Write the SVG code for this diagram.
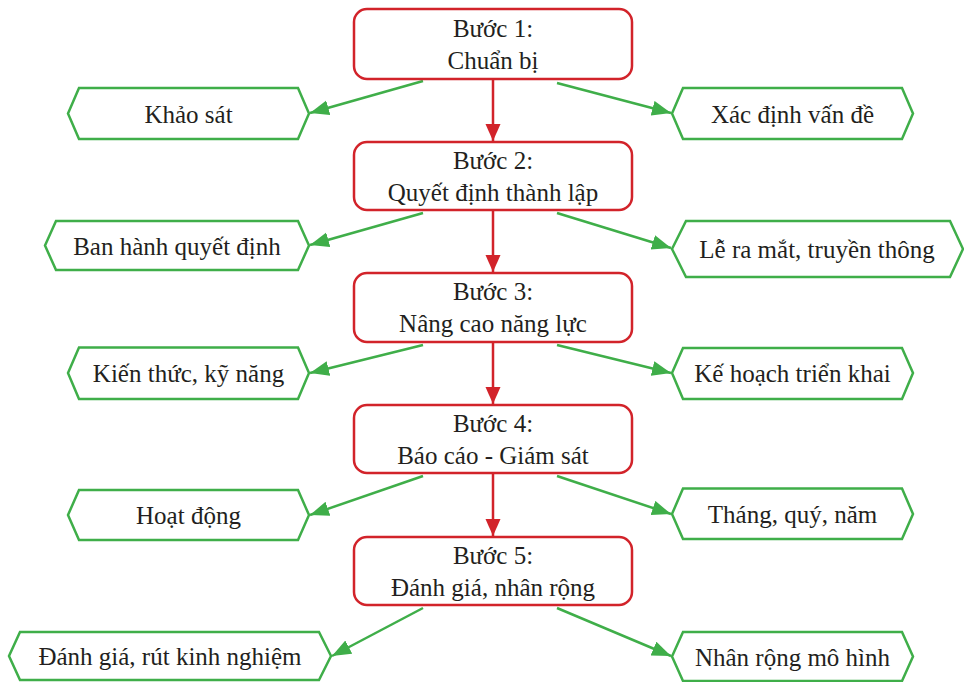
<svg xmlns="http://www.w3.org/2000/svg" width="964" height="682" viewBox="0 0 964 682">
<style>
  .step{fill:#fff;stroke:#d2232a;stroke-width:2.5}
  .hex{fill:#fff;stroke:#3fae49;stroke-width:2.5;stroke-linejoin:miter}
  .red{stroke:#d2232a;stroke-width:2.5;fill:none}
  .grn{stroke:#3fae49;stroke-width:2.5;fill:none}
  text{font-family:"Liberation Serif","DejaVu Serif",serif;font-size:25px;fill:#231f20;text-anchor:middle}
</style>
<defs>
  <marker id="ar" markerUnits="userSpaceOnUse" markerWidth="18" markerHeight="16" refX="17" refY="7.5" orient="auto">
    <path d="M0,0 L17,7.5 L0,15 z" fill="#d2232a"/>
  </marker>
  <marker id="ag" markerUnits="userSpaceOnUse" markerWidth="20" markerHeight="16" refX="19" refY="7.5" orient="auto">
    <path d="M0,0 L19,7.5 L0,15 z" fill="#3fae49"/>
  </marker>
</defs>

<g id="connectors">
  <line class="red" x1="493" y1="80" x2="493" y2="141" marker-end="url(#ar)"/>
  <line class="red" x1="493" y1="211" x2="493" y2="272" marker-end="url(#ar)"/>
  <line class="red" x1="493" y1="343" x2="493" y2="404" marker-end="url(#ar)"/>
  <line class="red" x1="493" y1="474" x2="493" y2="536" marker-end="url(#ar)"/>

  <line class="grn" x1="423" y1="81" x2="310" y2="113" marker-end="url(#ag)"/>
  <line class="grn" x1="557" y1="83" x2="671" y2="113" marker-end="url(#ag)"/>
  <line class="grn" x1="423" y1="213" x2="310" y2="245" marker-end="url(#ag)"/>
  <line class="grn" x1="557" y1="213" x2="671" y2="248" marker-end="url(#ag)"/>
  <line class="grn" x1="423" y1="345" x2="310" y2="373" marker-end="url(#ag)"/>
  <line class="grn" x1="557" y1="345" x2="671" y2="373" marker-end="url(#ag)"/>
  <line class="grn" x1="423" y1="476" x2="310" y2="515" marker-end="url(#ag)"/>
  <line class="grn" x1="557" y1="476" x2="671" y2="514" marker-end="url(#ag)"/>
  <line class="grn" x1="423" y1="608" x2="332" y2="656" marker-end="url(#ag)"/>
  <line class="grn" x1="557" y1="608" x2="671" y2="656" marker-end="url(#ag)"/>
</g>

<g id="step1">
  <rect class="step" x="354" y="9" width="278" height="70" rx="13"/>
  <text x="493" y="37">Bước 1:</text>
  <text x="493" y="69">Chuẩn bị</text>
</g>
<g id="step2">
  <rect class="step" x="354" y="142" width="278" height="68" rx="13"/>
  <text x="493" y="169">Bước 2:</text>
  <text x="493" y="201">Quyết định thành lập</text>
</g>
<g id="step3">
  <rect class="step" x="354" y="273" width="278" height="69" rx="13"/>
  <text x="493" y="300">Bước 3:</text>
  <text x="493" y="332">Nâng cao năng lực</text>
</g>
<g id="step4">
  <rect class="step" x="354" y="405" width="278" height="68" rx="13"/>
  <text x="493" y="432">Bước 4:</text>
  <text x="493" y="464">Báo cáo - Giám sát</text>
</g>
<g id="step5">
  <rect class="step" x="354" y="537" width="278" height="68" rx="13"/>
  <text x="493" y="564">Bước 5:</text>
  <text x="493" y="596">Đánh giá, nhân rộng</text>
</g>

<g id="n-khaosat">
  <path class="hex" d="M68,113.5 L79,88 L298,88 L309,113.5 L298,139 L79,139 Z"/>
  <text x="188.5" y="123">Khảo sát</text>
</g>
<g id="n-xacdinh">
  <path class="hex" d="M672,113.5 L683,88 L902,88 L913,113.5 L902,139 L683,139 Z"/>
  <text x="792.5" y="123">Xác định vấn đề</text>
</g>
<g id="n-banhanh">
  <path class="hex" d="M45,245.5 L56,221 L298,221 L309,245.5 L298,270 L56,270 Z"/>
  <text x="177" y="255">Ban hành quyết định</text>
</g>
<g id="n-lera">
  <path class="hex" d="M672,249 L686,221 L950,221 L963,249 L950,277 L686,277 Z"/>
  <text x="817" y="258">Lễ ra mắt, truyền thông</text>
</g>
<g id="n-kienthuc">
  <path class="hex" d="M68,373 L79,347.5 L298,347.5 L309,373 L298,399 L79,399 Z"/>
  <text x="188.5" y="382">Kiến thức, kỹ năng</text>
</g>
<g id="n-kehoach">
  <path class="hex" d="M672,373 L683,348 L902,348 L913,373 L902,399 L683,399 Z"/>
  <text x="792.5" y="382">Kế hoạch triển khai</text>
</g>
<g id="n-hoatdong">
  <path class="hex" d="M68,515 L79,490 L298,490 L309,515 L298,540 L79,540 Z"/>
  <text x="188.5" y="524">Hoạt động</text>
</g>
<g id="n-thang">
  <path class="hex" d="M672,514 L683,488.5 L902,488.5 L913,514 L902,539 L683,539 Z"/>
  <text x="792.5" y="523">Tháng, quý, năm</text>
</g>
<g id="n-danhgia">
  <path class="hex" d="M9,656 L20,632 L319,632 L331,656 L319,680 L20,680 Z"/>
  <text x="170" y="665">Đánh giá, rút kinh nghiệm</text>
</g>
<g id="n-nhanrong">
  <path class="hex" d="M672,656.5 L683,632 L902,632 L913,656.5 L902,681 L683,681 Z"/>
  <text x="792.5" y="666">Nhân rộng mô hình</text>
</g>
</svg>
